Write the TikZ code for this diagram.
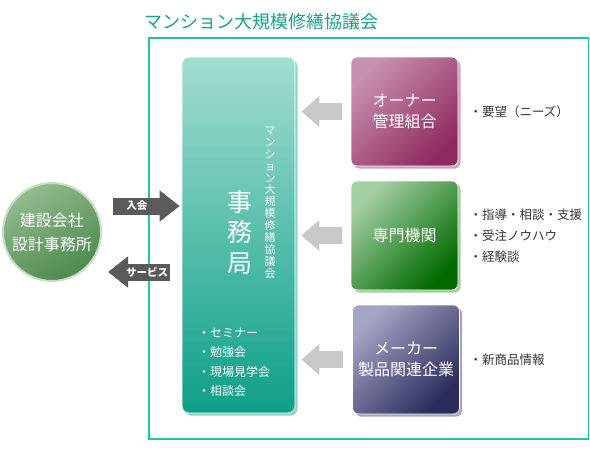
\documentclass[tikz,border=0pt]{standalone}
\usepackage{fontspec}
\setmainfont{Noto Sans CJK JP}
\usepackage{xcolor}
\usetikzlibrary{arrows.meta,positioning,shadows}
\definecolor{frameteal}{HTML}{22C4A6}
\definecolor{titleteal}{HTML}{1AA18D}
\definecolor{officetop}{HTML}{A3DDD1}
\definecolor{officebottom}{HTML}{0E9F87}
\definecolor{officerim}{HTML}{8FD5C7}
\definecolor{ownerlight}{HTML}{C890B0}
\definecolor{ownerdark}{HTML}{8E2B5E}
\definecolor{ownerrim}{HTML}{D4A0BD}
\definecolor{expertlight}{HTML}{A3CFA3}
\definecolor{expertdark}{HTML}{006A00}
\definecolor{expertrim}{HTML}{9FCC9C}
\definecolor{makerlight}{HTML}{A4A4C4}
\definecolor{makerdark}{HTML}{2B2B5C}
\definecolor{makerrim}{HTML}{A6A6C2}
\definecolor{firmlight}{HTML}{93BB90}
\definecolor{firmdark}{HTML}{4D894E}
\definecolor{firmrim}{HTML}{C9DDC6}
\definecolor{darkarrow}{HTML}{5A5A5A}
\definecolor{lightarrow}{HTML}{C8C8C8}
\definecolor{notegray}{HTML}{333333}
\tikzset{
  colorbox/.style={rectangle,rounded corners=6pt,minimum width=107pt,minimum height=109pt,
    align=center,text=white,draw=white,line width=0.8pt,font=\fontsize{16}{21}\selectfont},
  ownerfill/.style={top color=ownerlight,bottom color=ownerdark,shading angle=45,
    drop shadow={shadow xshift=2.5pt,shadow yshift=-2.5pt,fill=ownerrim,opacity=1}},
  expertfill/.style={top color=expertlight,bottom color=expertdark,shading angle=45,
    drop shadow={shadow xshift=2.5pt,shadow yshift=-2.5pt,fill=expertrim,opacity=1}},
  makerfill/.style={top color=makerlight,bottom color=makerdark,shading angle=45,
    drop shadow={shadow xshift=2.5pt,shadow yshift=-2.5pt,fill=makerrim,opacity=1}},
  officebox/.style={rectangle,rounded corners=7pt,minimum width=113pt,minimum height=356pt,
    draw=white,line width=0.8pt,top color=officetop,middle color=officebottom!92!white,
    bottom color=officebottom,
    drop shadow={shadow xshift=2.5pt,shadow yshift=-2.5pt,fill=officerim,opacity=1}},
  sidenote/.style={inner sep=0pt,align=left,text=notegray,font=\fontsize{12.5}{21}\selectfont},
  arrowtext/.style={text=white,inner sep=0pt,font=\fontsize{10.5}{12}\selectfont\bfseries},
  joinarrow/.style={draw=darkarrow,line width=17pt,-{Triangle[width=30pt,length=20pt]}},
  backarrow/.style={draw=lightarrow,line width=17pt,-{Triangle[width=30pt,length=18pt]}}
}
\begin{document}
\begin{tikzpicture}[x=1pt,y=-1pt]
\useasboundingbox (0,0) rectangle (590,450);
% title and frame of the council
\node[anchor=west,inner sep=0pt,text=titleteal,font=\fontsize{18}{20}\selectfont] (title) at (144,22) {マンション大規模修繕協議会};
\draw[frameteal,line width=1.3pt] (149,38) rectangle (588.5,439);
% office
\node[officebox] (office) at (238.5,235) {};
\node[text=white,align=center,inner sep=0pt,font=\fontsize{25}{30.5}\selectfont] (officename) at (240,232) {事\\務\\局};
\node[text=white,align=center,inner sep=0pt,font=\fontsize{11}{11.9}\selectfont] (officesub) at (270,202.5)
  {マ\\ン\\シ\\ョ\\ン\\大\\規\\模\\修\\繕\\協\\議\\会};
\node[anchor=north west,align=left,inner sep=0pt,text=white,font=\fontsize{12}{19.3}\selectfont] (events) at (198,328)
  {・セミナー\\・勉強会\\・現場見学会\\・相談会};
% members
\node[colorbox,ownerfill] (owner) at (404.5,111.5) {オーナー\\管理組合};
\node[colorbox,expertfill] (expert) at (404.5,235.5) {専門機関};
\node[colorbox,makerfill] (maker) at (406,359.5) {メーカー\\製品関連企業};
\node[sidenote,right=11pt of owner] (ownernote) {・要望（ニーズ）};
\node[sidenote,right=11pt of expert] (expertnote) {・指導・相談・支援\\・受注ノウハウ\\・経験談};
\node[sidenote,right=9.5pt of maker] (makernote) {・新商品情報};
\foreach \member in {owner,expert,maker}
  \draw[backarrow] ([xshift=-9pt]\member.west) -- ([xshift=6pt]office.east |- \member.west);
% firms
\node[circle,minimum size=98pt,draw=firmrim,line width=2pt,top color=firmlight,bottom color=firmdark,
  shading angle=30,text=white,align=center,font=\fontsize{16}{24}\selectfont] (firm) at (52,232) {建設会社\\設計事務所};
\coordinate (joinstart) at (113,206);
\coordinate (servicestart) at (170,272);
\coordinate (servicetip) at (108,272);
\draw[joinarrow] (joinstart) -- ([xshift=-2pt]office.west |- joinstart) node[pos=0.36,arrowtext] {入会};
\draw[joinarrow] (servicestart) -- (servicetip) node[pos=0.37,arrowtext] {サービス};
\end{tikzpicture}
\end{document}
